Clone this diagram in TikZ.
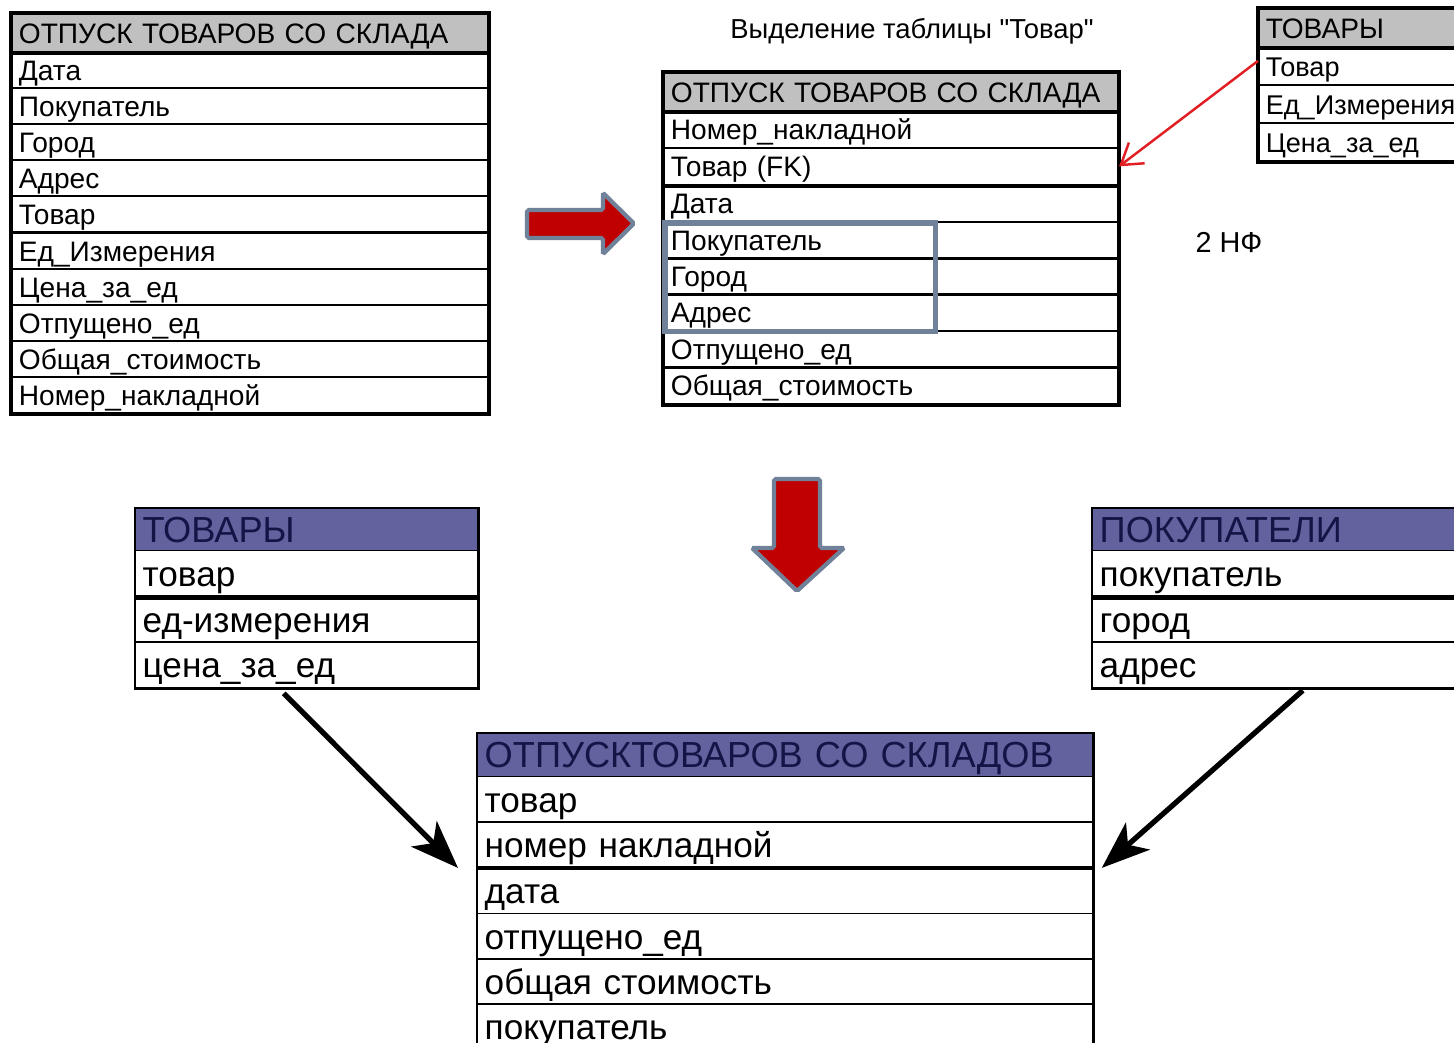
\documentclass[tikz,border=0pt]{standalone}
\usepackage{fontspec}
\setmainfont{Liberation Sans}
\newfontfamily\plainfont{Liberation Sans}
\usetikzlibrary{arrows.meta}

\definecolor{hdrgray}{RGB}{192,192,192}
\definecolor{hdrblue}{RGB}{98,98,158}
\definecolor{hdrtext}{RGB}{20,20,70}
\definecolor{slate}{RGB}{111,130,153}
\definecolor{bigred}{RGB}{192,0,0}
\definecolor{fkred}{RGB}{225,30,35}

\tikzset{
  fld/.style={draw, anchor=north west, inner xsep=0.07cm, inner ysep=0pt, align=left, line width=0.5pt},
  small/.style={fld, font=\fontsize{8}{9}\selectfont, text height=5.8pt, text depth=0pt},
  big/.style={fld, font=\fontsize{10}{11}\selectfont, text height=7.2pt, text depth=0pt, line width=0.4pt},
  grayhdr/.style={small, fill=hdrgray, minimum height=0.38cm},
  bluehdr/.style={big, fill=hdrblue, text=hdrtext, minimum height=0.42cm, font=\fontsize{10.3}{11}\selectfont},
  frame/.style={line width=1.2pt},
  thinframe/.style={line width=0.8pt},
  sep/.style={line width=1.2pt},
  blockarrow/.style={fill=bigred, draw=slate, line width=1.2pt, rounded corners=0.5pt},
  blackarrow/.style={line width=1.5pt, -{Stealth[length=0.48cm,width=0.36cm,inset=0.13cm]}},
}

\begin{document}
\begin{tikzpicture}[x=0.01cm, y=-0.01cm]
		\useasboundingbox (0,0) rectangle (1454,1043);
		\clip (0,0) rectangle (1454,1043);
		
		% source table
		\node[grayhdr, text width=4.62cm] (tl0) at (11,13) {ОТПУСК ТОВАРОВ СО СКЛАДА};
		\node[small, text width=4.62cm, minimum height=0.362cm] (tl1) at (11,51) {Дата};
		\node[small, text width=4.62cm, minimum height=0.362cm] (tl2) at (11,87) {Покупатель};
		\node[small, text width=4.62cm, minimum height=0.362cm] (tl3) at (11,123) {Город};
		\node[small, text width=4.62cm, minimum height=0.362cm] (tl4) at (11,159) {Адрес};
		\node[small, text width=4.62cm, minimum height=0.362cm] (tl5) at (11,195) {Товар};
		\node[small, text width=4.62cm, minimum height=0.362cm] (tl6) at (11,232) {Ед\_Измерения};
		\node[small, text width=4.62cm, minimum height=0.362cm] (tl7) at (11,268) {Цена\_за\_ед};
		\node[small, text width=4.62cm, minimum height=0.362cm] (tl8) at (11,304) {Отпущено\_ед};
		\node[small, text width=4.62cm, minimum height=0.362cm] (tl9) at (11,340) {Общая\_стоимость};
		\node[small, text width=4.62cm, minimum height=0.362cm] (tl10) at (11,376) {Номер\_накладной};
		\draw[frame] (tl0.north west) rectangle (tl10.south east);
		\draw[frame] (tl0.south west) -- (tl0.south east);
		
		% after splitting off the goods
		\node[font=\plainfont\fontsize{7.8}{9}\selectfont] (title) at (912,31) {Выделение таблицы "Товар"};
		\node[grayhdr, text width=4.40cm] (tm0) at (663,72) {ОТПУСК ТОВАРОВ СО СКЛАДА};
		\node[small, text width=4.40cm, minimum height=0.37cm] (tm1) at (663,110) {Номер\_накладной};
		\node[small, text width=4.40cm, minimum height=0.37cm] (tm2) at (663,147) {Товар (FK)};
		\node[small, text width=4.40cm, minimum height=0.37cm] (tm3) at (663,184) {Дата};
		\node[small, text width=4.40cm, minimum height=0.37cm] (tm4) at (663,221) {Покупатель};
		\node[small, text width=4.40cm, minimum height=0.37cm] (tm5) at (663,257) {Город};
		\node[small, text width=4.40cm, minimum height=0.37cm] (tm6) at (663,293) {Адрес};
		\node[small, text width=4.40cm, minimum height=0.37cm] (tm7) at (663,330) {Отпущено\_ед};
		\node[small, text width=4.40cm, minimum height=0.37cm] (tm8) at (663,366) {Общая\_стоимость};
		\draw[frame] (tm0.north west) rectangle (tm8.south east);
		\draw[frame] (tm0.south west) -- (tm0.south east);
		\draw[sep] (tm2.south west) -- (tm2.south east);
		\draw[draw=slate, line width=1.5pt] ([xshift=0.02cm,yshift=-0.02cm]tm4.north west) rectangle ([xshift=2.72cm]tm6.south west);
		
		\node[grayhdr, text width=2.46cm] (tr0) at (1258,8) {ТОВАРЫ};
		\node[small, text width=2.46cm, minimum height=0.38cm, font=\fontsize{7.7}{9}\selectfont] (tr1) at (1258,46) {Товар};
		\node[small, text width=2.46cm, minimum height=0.38cm, font=\fontsize{7.7}{9}\selectfont] (tr2) at (1258,84) {Ед\_Измерения};
		\node[small, text width=2.46cm, minimum height=0.38cm, font=\fontsize{7.7}{9}\selectfont] (tr3) at (1258,122) {Цена\_за\_ед};
		\draw[frame] (tr0.north west) rectangle (tr3.south east);
		\draw[frame] (tr0.south west) -- (tr0.south east);
		
		\node[font=\fontsize{8.2}{9}\selectfont] (nf) at (1229,243) {2 НФ};
		
		\draw[fkred, line width=0.7pt, -{Straight Barb[length=0.2cm,width=0.26cm]}] ([yshift=0.05cm]tr1.west) -- (tm2.east);
		
		% block arrows
		\draw[blockarrow] (527,210) -- (603,210) -- (603,193) -- (634,223.5) -- (603,254) -- (603,238) -- (527,238) -- cycle;
		\draw[blockarrow] (774,479) -- (820,479) -- (820,548) -- (844,548) -- (797,591) -- (752,548) -- (774,548) -- cycle;
		
		% result tables
		\node[bluehdr, text width=3.28cm] (bl0) at (135,508) {ТОВАРЫ};
		\node[big, text width=3.28cm, minimum height=0.46cm] (bl1) at (135,550) {товар};
		\node[big, text width=3.28cm, minimum height=0.46cm] (bl2) at (135,596) {ед-измерения};
		\node[big, text width=3.28cm, minimum height=0.46cm] (bl3) at (135,641) {цена\_за\_ед};
		\draw[thinframe] (bl0.north west) rectangle (bl3.south east);
		\draw[sep] (bl1.south west) -- (bl1.south east);
		
		\node[bluehdr, text width=4.06cm] (br0) at (1092,508) {ПОКУПАТЕЛИ};
		\node[big, text width=4.06cm, minimum height=0.46cm] (br1) at (1092,550) {покупатель};
		\node[big, text width=4.06cm, minimum height=0.46cm] (br2) at (1092,596) {город};
		\node[big, text width=4.06cm, minimum height=0.46cm] (br3) at (1092,641) {адрес};
		\draw[thinframe] (br0.north west) rectangle (br3.south east);
		\draw[sep] (br1.south west) -- (br1.south east);
		
		\node[bluehdr, text width=6.01cm, minimum height=0.43cm] (bc0) at (477,733) {ОТПУСКТОВАРОВ СО СКЛАДОВ};
		\node[big, text width=6.01cm, minimum height=0.455cm] (bc1) at (477,776) {товар};
		\node[big, text width=6.01cm, minimum height=0.455cm] (bc2) at (477,821) {номер накладной};
		\node[big, text width=6.01cm, minimum height=0.455cm] (bc3) at (477,867) {дата};
		\node[big, text width=6.01cm, minimum height=0.455cm] (bc4) at (477,913) {отпущено\_ед};
		\node[big, text width=6.01cm, minimum height=0.455cm] (bc5) at (477,958) {общая стоимость};
		\node[big, text width=6.01cm, minimum height=0.455cm] (bc6) at (477,1003) {покупатель};
		\draw[thinframe] (bc0.north west) rectangle (bc6.south east);
		\draw[sep] (bc2.south west) -- (bc2.south east);
		
		\draw[blackarrow] ([xshift=-0.23cm,yshift=-0.05cm]bl3.south) -- ([xshift=-0.19cm]bc2.south west);
		\draw[blackarrow] ([yshift=-0.02cm]br3.south) -- ([xshift=0.08cm]bc2.south east);
		\end{tikzpicture}
\end{document}
